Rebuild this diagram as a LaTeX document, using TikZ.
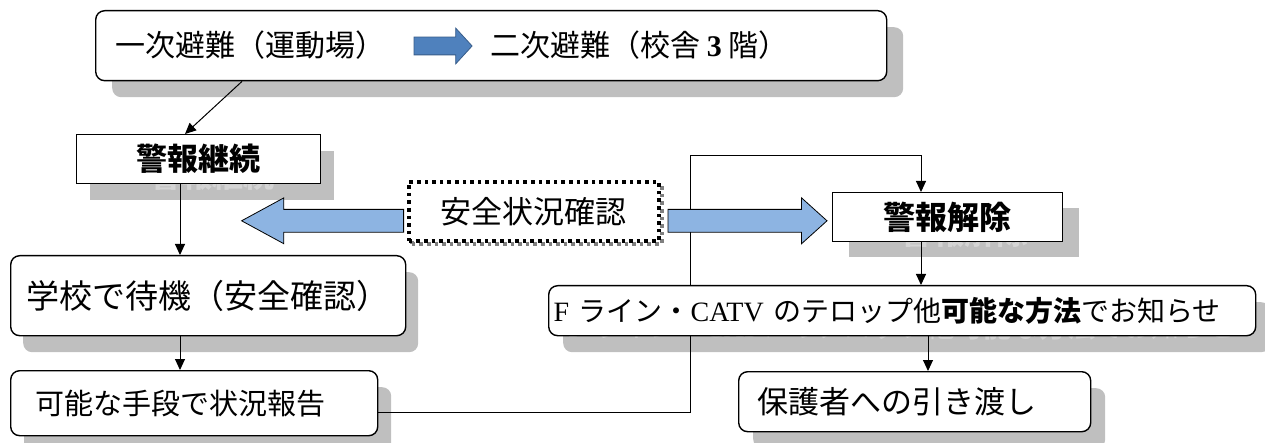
\documentclass[tikz,border=0pt]{standalone}
\usepackage{fontspec}
\setmainfont{Noto Sans CJK JP}
\newfontfamily\latserif{Liberation Serif}
\usetikzlibrary{arrows.meta,shapes.arrows}
\definecolor{paleblue}{HTML}{8DB4E2}
\definecolor{midblue}{HTML}{4F81BD}
\definecolor{edgeblue}{HTML}{385D8A}
\definecolor{shadegray}{HTML}{BFBFBF}
\definecolor{ghostgray}{HTML}{D4D4D4}
\newcommand\pts[1]{\fontsize{#1}{#1}\selectfont}

\begin{document}
\begin{tikzpicture}[x=1pt,y=-1pt,
    link/.style={line width=1pt,-{Triangle[length=11pt,width=10pt]}},
    frame/.style={draw,line width=1.4pt,fill=white,inner sep=0pt,anchor=north west},
    rframe/.style={frame,rounded corners=9pt},
    shade/.style={fill=shadegray,text=ghostgray,inner sep=0pt,anchor=north west},
    rshade/.style={shade,rounded corners=9pt},
    dots/.style={line width=3.6pt,dash pattern=on 3.6pt off 4pt},
    fat/.style={single arrow,draw,line width=0.8pt,fill=paleblue,inner sep=0pt,
      inner ysep=11pt,single arrow head extend=11.5pt}]
    \useasboundingbox (0,0) rectangle (1265,443);

    % first and second evacuation
    \node (evacS) [rshade, minimum width=791pt, minimum height=70pt] at (112,27) {};
    \node (evac) [rframe, minimum width=791pt, minimum height=70pt] at (95,10) {};
    \node (first) [anchor=west, inner sep=0pt, font=\pts{30}] at (115,45) {一次避難（運動場）};
    \node (evacArrow) [single arrow, draw=edgeblue, fill=midblue, line width=0.8pt,
      inner sep=0pt, inner ysep=8.5pt, single arrow head extend=9pt,
      single arrow tip angle=95, minimum height=58pt] at (439,46) {};
    \node (second) [anchor=west, inner sep=0pt, font=\pts{30}] at (490,45)
      {二次避難（校舎 {\latserif\bfseries 3} 階）};

    % warning goes on
    \node (warnS) [shade, minimum width=244pt, minimum height=49pt, font=\pts{31}\bfseries]
      at (90,151) {警報継続};
    \node (warn) [frame, minimum width=244pt, minimum height=49pt, font=\pts{31}\bfseries]
      at (76,134) {警報継続};

    % checking the safety
    \node (safeS) [draw=gray, dots, inner sep=0pt,
      anchor=north west, minimum width=250pt, minimum height=59pt] at (410,183) {};
    \node (safe) [frame, dots,
      minimum width=250pt, minimum height=59pt, font=\pts{31}] at (407,180) {安全状況確認};

    % warning lifted
    \node (clearS) [shade, minimum width=230pt, minimum height=49pt, font=\pts{32}\bfseries]
      at (849,208) {警報解除};
    \node (clear) [frame, minimum width=230pt, minimum height=49pt, font=\pts{32}\bfseries]
      at (832,192) {警報解除};

    % left column
    \node (waitS) [rshade, minimum width=395pt, minimum height=80pt] at (23,272) {};
    \node (wait) [rframe, minimum width=395pt, minimum height=80pt, font=\pts{33}]
      at (10,255) {学校で待機（安全確認）};
    \node (reportS) [rshade, minimum width=367pt, minimum height=65pt] at (24,387) {};
    \node (report) [rframe, inner xsep=25pt, text width=317pt, align=left,
      minimum height=65pt, font=\pts{29}] at (10,370) {可能な手段で状況報告};

    % right column
    \node (noticeS) [rshade, inner xsep=5pt, text width=697pt, align=left,
      minimum height=50pt, font=\pts{28}] at (563,302)
      {{\latserif F} ライン・{\latserif CATV} のテロップ他\textbf{可能な方法}でお知らせ};
    \node (handS) [rshade, minimum width=352pt, minimum height=60pt] at (753,388) {};

    \draw [line width=1pt] ([yshift=-9pt]report.east) -| (690,156) -| (921,180);
    \draw [link] (921,180) -- ([xshift=89pt]clear.north west);

    \node (toWarn) [fat, shape border rotate=180, single arrow tip angle=57,
      minimum height=162pt, anchor=tail] at ([xshift=-3pt,yshift=-9.5pt]safe.west) {};
    \node (toClear) [fat, single arrow tip angle=84,
      minimum height=159pt, anchor=tail] at ([xshift=7pt,yshift=-9.5pt]safe.east) {};

    \node (notice) [rframe, inner xsep=5pt, text width=697pt, align=left,
      minimum height=50pt, font=\pts{28}] at (548,285)
      {{\latserif F} ライン・{\latserif CATV} のテロップ他\textbf{可能な方法}でお知らせ};
    \node (hand) [rframe, inner xsep=19pt, text width=314pt, align=left,
      minimum height=60pt, font=\pts{31}] at (738,371) {保護者への引き渡し};

    % connectors
    \draw [link] ([xshift=147pt]evac.south west) -- ([xshift=109pt]warn.north west);
    \draw [link] ([xshift=104pt]warn.south west) -- ([xshift=104pt]warn.south west |- wait.north);
    \draw [link] ([xshift=170pt]wait.south west) -- ([xshift=170pt]wait.south west |- report.north);
    \draw [link] ([xshift=89pt]clear.south west) -- ([xshift=89pt]clear.south west |- notice.north);
    \draw [link] ([xshift=380pt]notice.south west) -- ([xshift=380pt]notice.south west |- hand.north);
\end{tikzpicture}
\end{document}
